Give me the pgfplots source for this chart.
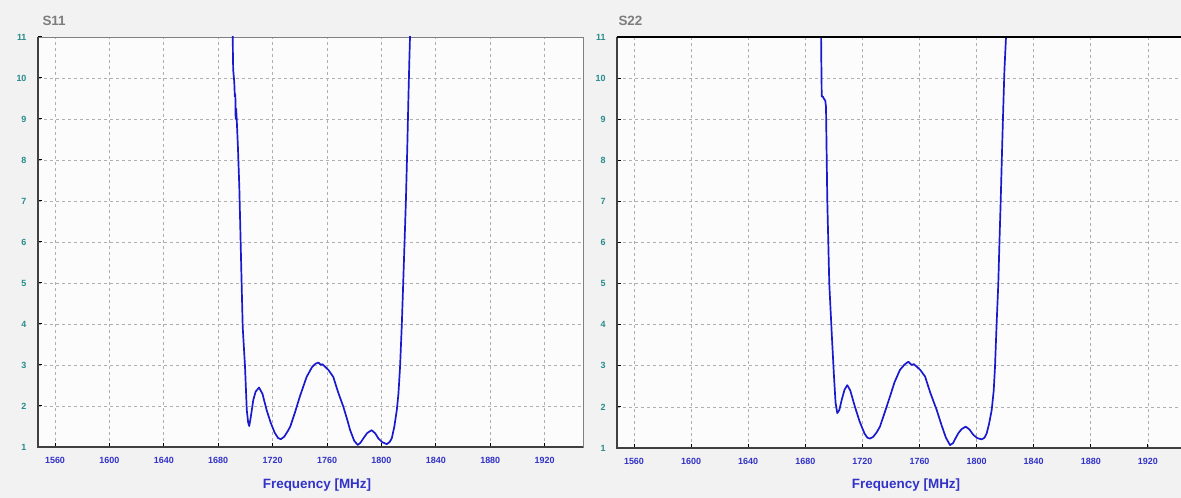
\documentclass[border=0pt]{standalone}
\usepackage{pgfplots}
\pgfplotsset{compat=1.18}
\usepackage{fontspec}
\setmainfont{Liberation Sans}
\definecolor{bgcol}{RGB}{242,242,242}
\definecolor{plotbg}{RGB}{252,252,252}
\definecolor{curve}{RGB}{25,25,205}
\definecolor{xtickcol}{RGB}{50,50,200}
\definecolor{ytickcol}{RGB}{40,140,140}
\definecolor{titlecol}{RGB}{125,125,125}
\definecolor{gridcol}{RGB}{175,175,175}
\pgfplotsset{
  myaxis/.style={
    scale only axis,
    anchor=south west,
    ymin=1, ymax=11,
    ytick={1,2,...,11},
    xtick={1560,1600,...,1920},
    axis background/.style={fill=plotbg},
    /pgf/number format/assume math mode=true,
    /pgf/number format/set thousands separator={},
    tick label style={font=\fontsize{9}{10}\selectfont\bfseries},
    xticklabel style={text=xtickcol},
    yticklabel style={text=ytickcol},
    x tick label style={yshift=-7bp},
    y tick label style={xshift=-8bp},
    tick pos=left,
    tick align=inside,
    major tick length=4bp,
    major tick style={black, line width=1pt},
    grid=major,
    major grid style={gridcol, dash pattern=on 3bp off 3bp, line width=0.7pt},
    axis line style={gray, line width=0.8pt},
    clip=true,
  },
  curveplot/.style={curve, line width=1.7pt, line join=round},
}
\begin{document}
\begin{tikzpicture}[x=1bp,y=1bp]
\useasboundingbox (0,0) rectangle (1181,498);
\fill[bgcol] (0,0) rectangle (1181,498);
% ---------- S11 ----------
\begin{axis}[myaxis,
  at={(38bp,51bp)}, width=545bp, height=410bp,
  xmin=1547.5, xmax=1948.2]
\addplot[curveplot] coordinates {
(1690.6,11.3) (1690.8,10.6) (1691.0,10.2) (1691.8,9.9) (1692.2,9.55) (1692.6,9.6) (1692.8,9.0) (1693.2,9.25) (1693.6,9.0)
(1694.5,8.3) (1695.5,7.35) (1696.5,5.98) (1697.2,5.0) (1698.0,3.93) (1699.7,2.96)
(1701.0,1.9) (1702.0,1.6) (1702.8,1.51) (1703.8,1.7) (1705.8,2.15) (1707.5,2.35) (1710.0,2.45)
(1712.5,2.3) (1715.6,1.9) (1718.5,1.6) (1721.5,1.35) (1724.0,1.22) (1726.0,1.19) (1728.5,1.25)
(1731.0,1.38) (1733.0,1.5) (1736.5,1.85) (1740.0,2.23) (1745.0,2.71) (1749.0,2.95)
(1751.5,3.03) (1753.6,3.06) (1755.5,3.0) (1756.5,3.02) (1758.5,2.96) (1761.0,2.88)
(1764.6,2.71) (1768.0,2.35) (1772.0,1.98) (1775.0,1.65) (1777.0,1.41) (1780.0,1.15)
(1782.6,1.05) (1784.5,1.1) (1786.7,1.21) (1789.5,1.34) (1792.8,1.41) (1795.5,1.33)
(1797.7,1.21) (1800.5,1.12) (1803.9,1.07) (1806.0,1.12) (1807.6,1.21) (1809.5,1.5)
(1811.3,1.9) (1812.5,2.3) (1813.7,2.96) (1815.0,4.0) (1816.0,4.99) (1817.0,6.0)
(1818.0,7.02) (1819.0,8.3) (1819.8,9.46) (1820.5,10.4) (1821.0,11.0) (1821.3,11.4)
};
\end{axis}
\draw[black!75, line width=1.6pt] (38,461) -- (38,51) -- (583,51);
% ---------- S22 ----------
\begin{axis}[myaxis,
  at={(617bp,50bp)}, width=570bp, height=411bp,
  xmin=1548.1, xmax=1947.4]
\addplot[curveplot] coordinates {
(1691.0,11.3) (1691.2,10.5) (1691.4,9.9) (1691.5,9.55) (1692.3,9.55) (1693.0,9.5) (1694.0,9.45) (1694.5,9.3)
(1695.4,7.03) (1696.8,5.0) (1698.5,3.8) (1700.1,2.74) (1701.2,2.1) (1702.4,1.85)
(1703.8,1.92) (1705.5,2.17) (1707.5,2.42) (1709.4,2.53) (1711.5,2.4) (1714.8,2.0)
(1718.0,1.65) (1721.5,1.35) (1723.5,1.25) (1725.3,1.23) (1727.5,1.27) (1730.0,1.38)
(1732.3,1.52) (1735.5,1.85) (1739.3,2.25) (1742.5,2.6) (1746.3,2.9) (1749.5,3.03)
(1752.2,3.1) (1754.5,3.02) (1756.0,3.04) (1758.0,2.98) (1760.5,2.9) (1763.9,2.74)
(1767.5,2.35) (1772.0,1.93) (1775.5,1.55) (1778.5,1.25) (1781.4,1.07) (1783.5,1.12)
(1785.0,1.22) (1787.2,1.36) (1789.5,1.46) (1792.4,1.52) (1795.0,1.45) (1797.7,1.32)
(1800.5,1.24) (1803.6,1.21) (1805.5,1.25) (1807.1,1.36) (1808.8,1.6) (1810.6,1.93)
(1812.0,2.4) (1812.9,2.98) (1814.0,4.0) (1815.2,5.0) (1816.0,6.0) (1816.9,7.03)
(1817.8,8.2) (1818.7,9.3) (1819.5,10.2) (1820.6,11.0) (1821.0,11.4)
};
\end{axis}
\draw[black!75, line width=1.6pt] (617,461) -- (617,50) -- (1181,50);
\draw[black, line width=1.6pt] (617,461) -- (1181,461);
% ---------- titles and labels ----------
\node[anchor=west, text=titlecol, font=\fontsize{13.5}{15}\selectfont\bfseries] at (39,477) {S11};
\node[anchor=west, text=titlecol, font=\fontsize{13.5}{15}\selectfont\bfseries] at (615,477) {S22};
\node[text=xtickcol, font=\fontsize{13.5}{15}\selectfont\bfseries] at (317,13) {Frequency [MHz]};
\node[text=xtickcol, font=\fontsize{13.5}{15}\selectfont\bfseries] at (906,13) {Frequency [MHz]};
\end{tikzpicture}
\end{document}
